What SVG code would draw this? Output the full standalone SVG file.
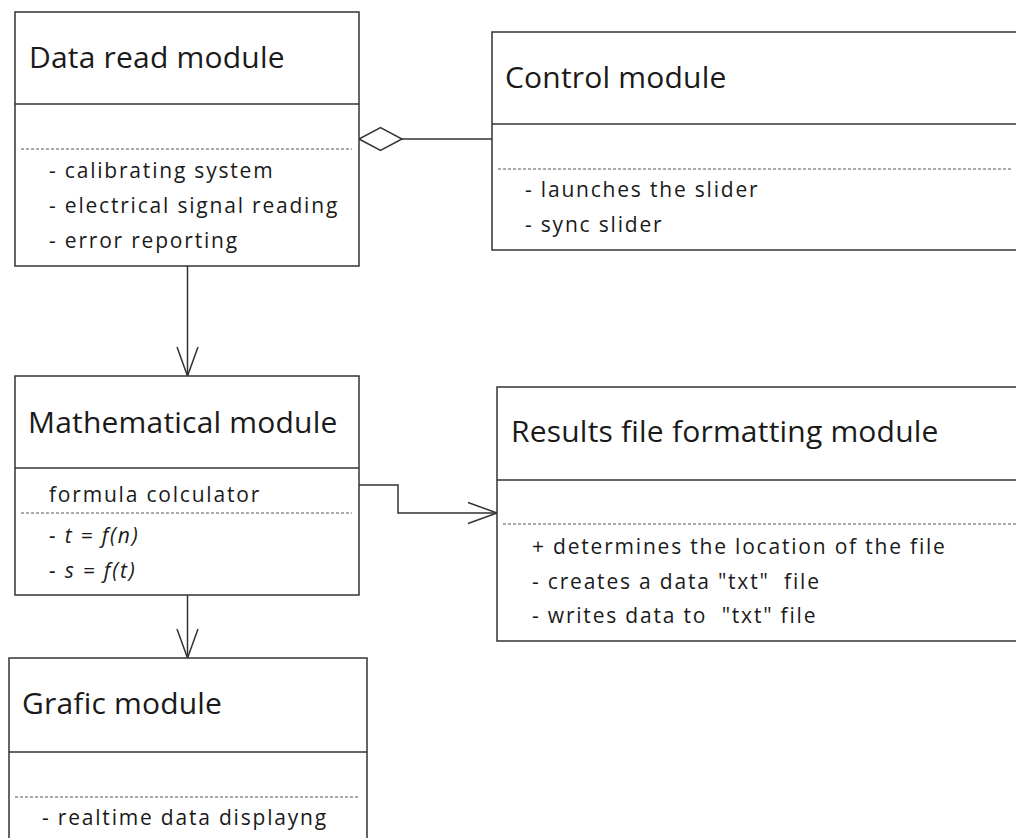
<svg xmlns="http://www.w3.org/2000/svg" width="1016" height="838" viewBox="0 0 1016 838">
<style>
.box{fill:#fff;stroke:#333;stroke-width:1.5}
.div{stroke:#333;stroke-width:1.5}
.dash{stroke:#555;stroke-width:1;stroke-dasharray:3 2}
.title{font-family:"Open Sans","Noto Sans",sans-serif;font-size:30px;fill:#1a1a1a;letter-spacing:0.2px}
.item{font-family:"Open Sans","Noto Sans",sans-serif;font-size:21px;fill:#1a1a1a;letter-spacing:1.8px;white-space:pre}
.it{font-style:italic}
.conn{fill:none;stroke:#333;stroke-width:1.5}
</style>
<defs>
<marker id="open" markerUnits="userSpaceOnUse" markerWidth="40" markerHeight="30" refX="0" refY="0" orient="auto" overflow="visible">
<path d="M-29,-10.5 L0,0 L-29,10.5" fill="none" stroke="#333" stroke-width="1.5"/>
</marker>
<marker id="diamond" markerUnits="userSpaceOnUse" markerWidth="50" markerHeight="30" refX="0" refY="0" orient="auto" overflow="visible">
<path d="M0,0 L-21.5,-11.5 L-43,0 L-21.5,11.5 Z" fill="#fff" stroke="#333" stroke-width="1.5"/>
</marker>
</defs>

<g id="connectors">
<path class="conn" d="M187.5,266 L187.5,376" marker-end="url(#open)"/>
<path class="conn" d="M187.5,595 L187.5,658" marker-end="url(#open)"/>
<path class="conn" d="M359,485 L398,485 L398,513 L497,513" marker-end="url(#open)"/>
<path class="conn" d="M492,139 L359,139" marker-end="url(#diamond)"/>
</g>

<g id="data-read-module">
<rect class="box" x="15" y="12" width="344" height="254"/>
<line class="div" x1="15" y1="104" x2="359" y2="104"/>
<line class="dash" x1="21" y1="149" x2="352" y2="149"/>
<text class="title" x="29" y="68">Data read module</text>
<text class="item" x="49" y="177.5">- calibrating system</text>
<text class="item" x="49" y="213">- electrical signal reading</text>
<text class="item" x="49" y="248">- error reporting</text>
</g>

<g id="control-module">
<rect class="box" x="492" y="32" width="560" height="218"/>
<line class="div" x1="492" y1="124" x2="1052" y2="124"/>
<line class="dash" x1="498" y1="169" x2="1013" y2="169"/>
<text class="title" x="505" y="88">Control module</text>
<text class="item" x="525" y="197">- launches the slider</text>
<text class="item" x="525" y="232">- sync slider</text>
</g>

<g id="mathematical-module">
<rect class="box" x="15" y="376" width="344" height="219"/>
<line class="div" x1="15" y1="468" x2="359" y2="468"/>
<line class="dash" x1="21" y1="513" x2="352" y2="513"/>
<text class="title" x="28" y="433">Mathematical module</text>
<text class="item" x="49" y="502">formula colculator</text>
<text class="item it" x="49" y="543">- t = f(n)</text>
<text class="item it" x="49" y="578">- s = f(t)</text>
</g>

<g id="results-file-formatting-module">
<rect class="box" x="497" y="387" width="560" height="254"/>
<line class="div" x1="497" y1="480" x2="1057" y2="480"/>
<line class="dash" x1="503" y1="524" x2="1016" y2="524"/>
<text class="title" x="511" y="442">Results file formatting module</text>
<text class="item" x="532" y="554">+ determines the location of the file</text>
<text class="item" x="532" y="588.5">- creates a data "txt"  file</text>
<text class="item" x="532" y="623">- writes data to  "txt" file</text>
</g>

<g id="grafic-module">
<rect class="box" x="9" y="658" width="358" height="200"/>
<line class="div" x1="9" y1="752" x2="367" y2="752"/>
<line class="dash" x1="15" y1="797" x2="358" y2="797"/>
<text class="title" x="22" y="714">Grafic module</text>
<text class="item" x="42" y="825">- realtime data displayng</text>
</g>
</svg>
